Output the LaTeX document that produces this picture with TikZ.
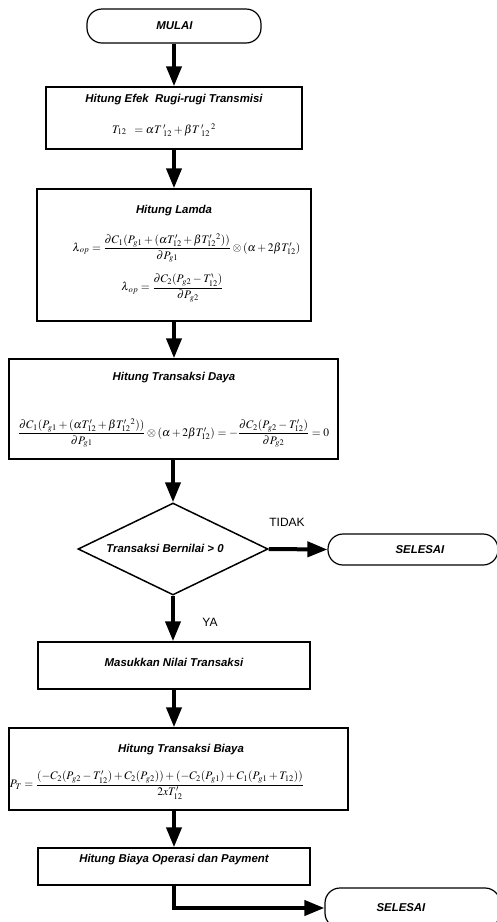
\documentclass[tikz,border=0pt]{standalone}
\usepackage{amsmath}
\usepackage{mathptmx}
\usepackage{amssymb}
\usepackage[no-math]{fontspec}
\setmainfont{Liberation Sans}
\usetikzlibrary{shapes,arrows.meta,positioning}

\tikzset{
  terminal/.style={draw, line width=1.2pt, rounded corners=15pt, inner sep=0pt},
  prosesbox/.style={draw, line width=1.5pt, inner sep=0pt},
  keputusan/.style={diamond, draw, line width=1.5pt, inner sep=0pt},
  judul/.style={font=\bfseries\itshape\fontsize{11.4}{13}\selectfont},
  rumus/.style={font=\fontsize{11.5}{13}\selectfont, inner sep=0pt},
  ket/.style={font=\fontsize{12}{14}\selectfont},
  panah/.style={line width=4pt, -{Triangle[length=20pt,width=15pt]}}
}

\begin{document}
\begin{tikzpicture}[x=1pt,y=-1pt]
                \useasboundingbox (0,0) rectangle (497,922);
                % kotak-kotak
                \node[terminal, minimum width=174, minimum height=34] (mulai) at (174,26) {};
                \node[judul] (tmulai) at (174.5,26) {MULAI};
                \node[prosesbox, minimum width=256, minimum height=62] (efek) at (174,118) {};
                \node[judul] (tefek) at (174,100) {Hitung Efek\ \ Rugi-rugi Transmisi};
                \node[rumus] (fefek) at (164,130) {$T_{12}\;\; = \alpha T\,'_{12} + \beta T\,'_{12}{}^{\,2}$};
                \node[prosesbox, minimum width=274, minimum height=132] (lamda) at (174,255) {};
                \node[judul] (tlamda) at (174,211) {Hitung Lamda};
                \node[rumus] (flamda1) at (186.5,248) {$\lambda_{\,op} = \dfrac{\partial C_1(P_{g1} + (\alpha T'_{12} + \beta T'_{12}{}^{2}))}{\partial P_{g1}} \otimes (\alpha + 2\beta T'_{12})$};
                \node[rumus] (flamda2) at (172.5,288) {$\lambda_{\,op} = \dfrac{\partial C_2(P_{g2} - T^{\backprime}_{12})}{\partial P_{g2}}$};
                \node[prosesbox, minimum width=329, minimum height=100] (daya) at (173.5,409) {};
                \node[judul] (tdaya) at (174,378) {Hitung Transaksi Daya};
                \node[rumus] (fdaya) at (173.5,433) {$\dfrac{\partial C_1(P_{g1} + (\alpha T'_{12} + \beta T'_{12}{}^{2}))}{\partial P_{g1}} \otimes (\alpha + 2\beta T'_{12}) = -\dfrac{\partial C_2(P_{g2} - T'_{12})}{\partial P_{g2}} = 0$};
                \node[keputusan, minimum width=190, minimum height=92] (cek) at (173,549) {};
                \node[judul] (tcek) at (165,548) {Transaksi Bernilai > 0};
                \node[terminal, minimum width=170, minimum height=31] (selesai1) at (413,549.5) {};
                \node[judul] (tselesai1) at (420,549.5) {SELESAI};
                \node[prosesbox, minimum width=272, minimum height=47] (masukkan) at (174,665.5) {};
                \node[judul] (tmasukkan) at (174,662) {Masukkan Nilai Transaksi};
                \node[prosesbox, minimum width=339, minimum height=82] (biaya) at (178.5,769) {};
                \node[judul] (tbiaya) at (181,750) {Hitung Transaksi Biaya};
                \node[rumus] (fbiaya) at (157,785) {$P_T = \dfrac{(-C_2(P_{g2} - T'_{12}) + C_2(P_{g2})) + (-C_2(P_{g1}) + C_1(P_{g1} + T_{12}))}{2xT'_{12}}$};
                \node[prosesbox, minimum width=272, minimum height=37] (payment) at (174,866.5) {};
                \node[judul] (tpayment) at (174,860) {Hitung Biaya Operasi dan Payment};
                \node[terminal, minimum width=175, minimum height=40] (selesai2) at (412.5,908) {};
                \node[judul] (tselesai2) at (401,908) {SELESAI};
                % label cabang
                \node[ket] (tidak) at (287,522) {TIDAK};
                \node[ket] (ya) at (210,622) {YA};
                % panah
                \draw[panah] (mulai) -- (efek);
                \draw[panah] (efek) -- (lamda);
                \draw[panah] (lamda.south) -- (lamda.south |- daya.north);
                \draw[panah] (daya.south -| cek.north) -- (cek.north);
                \draw[panah] (cek.east) -- (selesai1.west);
                \draw[panah] (cek.south) -- (cek.south |- masukkan.north);
                \draw[panah] (masukkan.south) -- (masukkan.south |- biaya.north);
                \draw[panah] (biaya.south -| payment.north) -- (payment.north);
                \draw[panah] (payment.south) |- (selesai2.west);
            \end{tikzpicture}
\end{document}
